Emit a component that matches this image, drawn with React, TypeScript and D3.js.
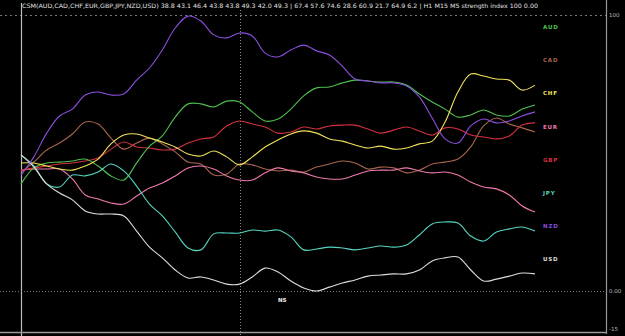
import React from "react";
import * as d3 from "d3";

const currencies = ["AUD", "CAD", "CHF", "EUR", "GBP", "JPY", "NZD", "USD"];
const colors = ["#4fc04f", "#a8664c", "#f2e35a", "#f07aae", "#d4303e", "#56d4c2", "#8c4fe0", "#dcdcdc"];

const AUD = [38.8, 44.6, 46.4, 46.7, 47.1, 47.8, 45.3, 41.7, 40.2, 46.4, 52.5, 56.2, 63.0, 67.8, 67.8, 66.7, 68.8, 68.5, 64.9, 61.6, 62.3, 65.9, 70.7, 73.6, 73.9, 75.4, 76.4, 76.1, 75.7, 75.7, 74.6, 71.4, 68.5, 65.9, 63.0, 63.8, 65.6, 63.8, 63.4, 65.9, 67.4];
const CAD = [43.1, 46.7, 51.1, 53.6, 56.9, 61.2, 60.5, 55.4, 51.4, 53.6, 55.4, 53.3, 50.4, 46.7, 46.0, 42.0, 42.4, 46.0, 45.7, 44.2, 43.5, 43.8, 43.1, 44.9, 46.0, 47.1, 46.4, 44.2, 44.9, 44.6, 42.8, 43.8, 46.0, 46.7, 47.8, 52.2, 59.8, 62.7, 60.5, 59.1, 57.6];
const CHF = [46.4, 46.4, 45.3, 44.2, 43.8, 45.3, 47.8, 53.3, 56.5, 56.9, 55.4, 54.0, 52.2, 49.6, 48.9, 50.7, 48.6, 45.7, 48.6, 52.2, 54.7, 56.9, 58.0, 57.2, 55.1, 54.3, 52.9, 51.8, 52.5, 51.4, 51.8, 53.3, 54.3, 61.2, 72.1, 78.6, 77.9, 76.8, 76.4, 72.8, 74.6];
const EUR = [43.8, 44.2, 44.2, 44.2, 40.6, 34.8, 33.3, 31.9, 31.5, 34.4, 37.3, 39.1, 41.7, 44.6, 45.3, 44.2, 41.7, 40.2, 40.2, 42.8, 44.6, 43.5, 42.8, 41.3, 40.6, 40.6, 42.0, 43.5, 43.8, 43.8, 44.6, 43.5, 42.8, 43.1, 42.0, 39.5, 37.7, 37.0, 34.8, 30.8, 28.6];
const GBP = [43.8, 44.6, 45.3, 46.0, 46.4, 47.1, 48.2, 51.4, 54.0, 52.2, 51.8, 51.1, 51.4, 53.6, 55.1, 55.8, 59.8, 61.6, 60.5, 59.4, 57.2, 57.6, 59.4, 58.7, 59.8, 60.1, 60.1, 58.7, 57.2, 58.3, 59.4, 58.0, 56.5, 59.1, 58.7, 56.5, 55.8, 55.1, 56.2, 60.1, 60.9];
const JPY = [49.3, 45.3, 38.8, 37.7, 42.0, 41.7, 43.1, 46.0, 43.5, 38.0, 31.5, 27.2, 21.4, 15.6, 14.9, 20.7, 21.0, 21.0, 22.1, 21.7, 22.1, 19.6, 14.9, 15.2, 15.9, 15.6, 14.9, 15.6, 16.3, 15.9, 16.7, 20.3, 24.3, 25.0, 24.6, 19.9, 18.1, 21.4, 22.5, 23.2, 21.7];
const NZD = [42.0, 48.6, 57.2, 63.4, 65.9, 71.0, 72.1, 71.0, 71.4, 76.4, 80.8, 87.3, 95.3, 99.6, 97.8, 92.8, 91.7, 93.5, 92.4, 86.2, 84.8, 87.3, 89.1, 87.0, 85.5, 81.5, 76.8, 76.1, 75.4, 75.4, 74.3, 70.3, 62.7, 55.1, 53.6, 59.8, 62.3, 60.9, 61.6, 63.4, 64.9];
const USD = [49.3, 44.9, 38.8, 35.5, 33.0, 29.0, 27.9, 27.9, 27.2, 21.7, 15.9, 12.0, 7.6, 4.7, 5.1, 4.0, 2.5, 2.5, 5.1, 8.3, 6.9, 3.6, 1.1, 0.0, 1.4, 2.9, 4.0, 5.4, 5.8, 6.2, 6.2, 7.6, 10.9, 12.0, 12.3, 7.6, 3.6, 4.3, 5.4, 6.5, 6.2];

const series = [AUD, CAD, CHF, EUR, GBP, JPY, NZD, USD];
// draw order: back to front
const drawOrder = [1, 3, 4, 0, 2, 5, 7, 6];

const axisLabels = ["100", "0.00", "-15"];
const axisValues = [100, 0, -15];
const sessionLabel = "NS";
const headerText =
  "CSM(AUD,CAD,CHF,EUR,GBP,JPY,NZD,USD) 38.8 43.1 46.4 43.8 43.8 49.3 42.0 49.3 | 67.4 57.6 74.6 28.6 60.9 21.7 64.9 6.2 | H1 M15 M5 strength index 100 0.00";

export default function App() {
  const W = 625;
  const H = 336;
  const n = AUD.length;
  const x = d3.scaleLinear().domain([0, n - 1]).range([21, 535]);
  const y = d3.scaleLinear().domain([0, 100]).range([291, 15]);
  const line = d3
    .line<number>()
    .x((_, i) => x(i))
    .y((d) => y(d))
    .curve(d3.curveCatmullRom.alpha(0.5));

  const sessionX = Math.round(x(17.05)) + 0.5;

  return (
    <svg
      width={W}
      height={H}
      style={{ position: "absolute", left: 0, top: 0, background: "#000" }}
      fontFamily="DejaVu Sans, sans-serif"
    >
      <rect x={0} y={0} width={W} height={H} fill="#000" />
      {/* header text */}
      <text
        x={22}
        y={8}
        fontSize={6}
        fill="#e0e0e0"
        textLength={516}
        lengthAdjust="spacingAndGlyphs"
      >
        {headerText}
      </text>
      {/* horizontal reference lines */}
      <line x1={0} x2={607} y1={y(100) + 0.5} y2={y(100) + 0.5} stroke="#777" strokeWidth={1} strokeDasharray="2,3" />
      <line x1={0} x2={607} y1={y(0) + 0.5} y2={y(0) + 0.5} stroke="#777" strokeWidth={1} strokeDasharray="1,2" />
      {/* vertical session line */}
      <line x1={sessionX} x2={sessionX} y1={10} y2={336} stroke="#888" strokeWidth={1} strokeDasharray="1,2" />
      {/* frame */}
      <line x1={21.5} x2={21.5} y1={3} y2={336} stroke="#bbb" strokeWidth={1.2} />
      <line x1={606.5} x2={606.5} y1={0} y2={334} stroke="#999" strokeWidth={1.2} />
      <line x1={0} x2={607} y1={y(-15)} y2={y(-15)} stroke="#999" strokeWidth={1.5} />
      {/* right axis labels */}
      {axisLabels.map((t, i) => (
        <text
          key={t}
          x={609}
          y={y(axisValues[i]) + (i === 2 ? -1 : 2)}
          fontSize={5.5}
          fill="#bbb"
        >
          {t}
        </text>
      ))}
      {/* session label */}
      <text x={278} y={302} fontSize={5.5} fontWeight="bold" fill="#eee">
        {sessionLabel}
      </text>
      {/* series lines */}
      {drawOrder.map((k) => (
        <path
          key={currencies[k]}
          d={line(series[k]) || ""}
          fill="none"
          stroke={colors[k]}
          strokeWidth={1.1}
        />
      ))}
      {/* legend labels */}
      {currencies.map((c, i) => (
        <text
          key={c}
          x={543}
          y={29 + i * 33.2}
          fontSize={5.5}
          fontWeight="bold"
          letterSpacing={0.8}
          fill={colors[i]}
        >
          {c}
        </text>
      ))}
    </svg>
  );
}
